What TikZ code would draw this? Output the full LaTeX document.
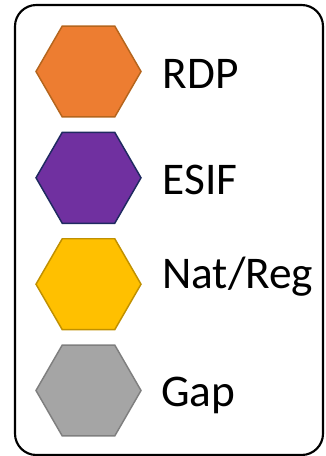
\documentclass[tikz,border=0pt]{standalone}
\usepackage{fontspec}
\setmainfont{Carlito}
\usetikzlibrary{shapes.geometric}
\definecolor{rdpfill}{HTML}{ED7D31}
\definecolor{rdpline}{HTML}{B5651D}
\definecolor{esiffill}{HTML}{7030A0}
\definecolor{esifline}{HTML}{1F2A60}
\definecolor{natfill}{HTML}{FFC000}
\definecolor{natline}{HTML}{C09000}
\definecolor{gapfill}{HTML}{A5A5A5}
\definecolor{gapline}{HTML}{7F7F7F}
\tikzset{
  hexa/.style={regular polygon, regular polygon sides=6, minimum size=78.75pt, inner sep=0pt, line width=1.1pt},
  lbl/.style={anchor=base west, inner sep=0pt, font=\fontsize{34}{36}\selectfont}
}

\begin{document}
\begin{tikzpicture}[x=0.75pt, y=-0.75pt]
        \useasboundingbox (0, 0) rectangle (325, 456);
        \draw [line width=1.6pt, rounded corners=16pt] (15, 5) rectangle (323, 455);
        \node [hexa, fill=rdpfill, draw=rdpline] (rdp) at (88.5, 71.5) {};
        \node [hexa, fill=esiffill, draw=esifline] (esif) at (88.5, 177.8) {};
        \node [hexa, fill=natfill, draw=natline] (natreg) at (88.5, 284.2) {};
        \node [hexa, fill=gapfill, draw=gapline] (gap) at (88.5, 390.5) {};
        \node [lbl] (rdp-lbl) at (162.5, 88.3) {RDP};
        \node [lbl] (esif-lbl) at (162.5, 194.3) {ESIF};
        \node [lbl] (natreg-lbl) at (162, 288.3) {Nat/Reg};
        \node [lbl] (gap-lbl) at (161, 406) {Gap};
    \end{tikzpicture}
\end{document}
